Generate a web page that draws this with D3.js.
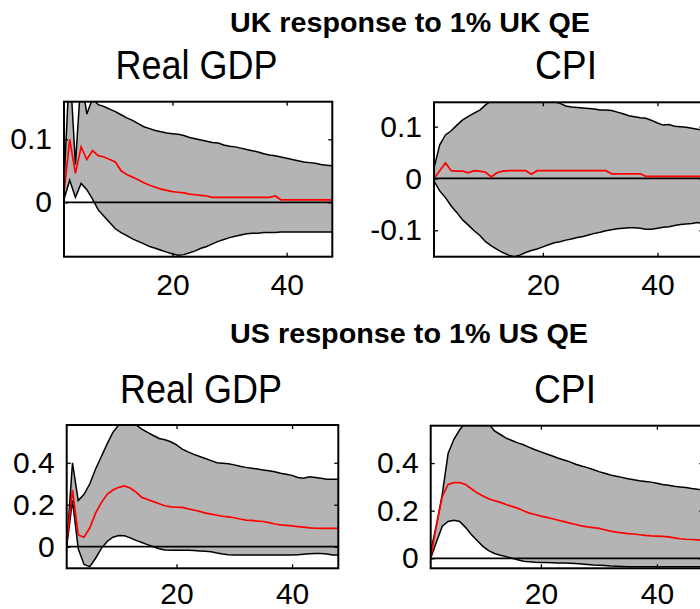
<!DOCTYPE html>
<html>
<head>
<meta charset="utf-8">
<script src="https://cdn.jsdelivr.net/npm/d3@7"></script>
<style>
  html, body { margin: 0; padding: 0; background: #fff; }
  svg { display: block; }
</style>
</head>
<body>
<svg id="chart" width="700" height="609"></svg>
<script>
// Impulse responses over a 48-period horizon: median with 68% bands.
const horizon = d3.range(1, 49);

// UK response to 1% UK QE — Real GDP
const ukGdpUpper = [0.030, 0.220, 0.060, 0.200, 0.140, 0.165, 0.155, 0.152, 0.148, 0.144,
  0.139, 0.134, 0.130, 0.125, 0.120, 0.117, 0.114, 0.112, 0.110, 0.109,
  0.108, 0.106, 0.103, 0.101, 0.099, 0.097, 0.095, 0.094, 0.091, 0.089,
  0.088, 0.086, 0.084, 0.082, 0.080, 0.077, 0.075, 0.074, 0.072, 0.070,
  0.068, 0.066, 0.064, 0.063, 0.062, 0.060, 0.059, 0.058];
const ukGdpMedian = [0.015, 0.100, 0.046, 0.088, 0.068, 0.082, 0.074, 0.072, 0.068, 0.064,
  0.050, 0.044, 0.040, 0.036, 0.031, 0.027, 0.024, 0.021, 0.019, 0.017,
  0.016, 0.015, 0.013, 0.012, 0.011, 0.010, 0.008, 0.008, 0.008, 0.008,
  0.008, 0.008, 0.008, 0.008, 0.008, 0.008, 0.008, 0.010, 0.004, 0.004,
  0.004, 0.004, 0.004, 0.004, 0.004, 0.004, 0.004, 0.004];
const ukGdpLower = [0.005, 0.035, 0.008, 0.030, 0.020, 0.005, -0.012, -0.022, -0.032, -0.042,
  -0.048, -0.053, -0.058, -0.062, -0.066, -0.070, -0.073, -0.076, -0.079, -0.082,
  -0.084, -0.083, -0.080, -0.077, -0.073, -0.070, -0.066, -0.062, -0.059, -0.056,
  -0.054, -0.052, -0.050, -0.049, -0.049, -0.048, -0.048, -0.048, -0.047, -0.047,
  -0.047, -0.047, -0.047, -0.047, -0.047, -0.047, -0.047, -0.047];

// UK response to 1% UK QE — CPI
const ukCpiUpper = [0.020, 0.065, 0.084, 0.092, 0.103, 0.113, 0.120, 0.126, 0.132, 0.142,
  0.150, 0.156, 0.160, 0.163, 0.165, 0.166, 0.166, 0.164, 0.160, 0.156,
  0.152, 0.148, 0.145, 0.140, 0.138, 0.137, 0.136, 0.135, 0.134, 0.132,
  0.132, 0.131, 0.128, 0.125, 0.121, 0.119, 0.117, 0.116, 0.112, 0.107,
  0.103, 0.104, 0.101, 0.100, 0.099, 0.097, 0.095, 0.094];
const ukCpiMedian = [0.000, 0.015, 0.030, 0.015, 0.014, 0.014, 0.011, 0.015, 0.014, 0.012,
  0.003, 0.011, 0.014, 0.015, 0.015, 0.015, 0.015, 0.008, 0.015, 0.015,
  0.015, 0.015, 0.015, 0.015, 0.015, 0.015, 0.015, 0.015, 0.015, 0.015,
  0.015, 0.009, 0.009, 0.009, 0.009, 0.009, 0.009, 0.004, 0.004, 0.004,
  0.004, 0.004, 0.004, 0.004, 0.004, 0.004, 0.004, 0.004];
const ukCpiLower = [-0.005, -0.024, -0.037, -0.053, -0.066, -0.080, -0.090, -0.101, -0.110, -0.122,
  -0.130, -0.137, -0.143, -0.148, -0.151, -0.148, -0.143, -0.139, -0.136, -0.132,
  -0.128, -0.124, -0.122, -0.119, -0.117, -0.114, -0.112, -0.109, -0.106, -0.104,
  -0.101, -0.099, -0.097, -0.096, -0.095, -0.095, -0.096, -0.098, -0.098, -0.096,
  -0.094, -0.093, -0.091, -0.089, -0.088, -0.087, -0.085, -0.087];

// US response to 1% US QE — Real GDP
const usGdpUpper = [0.000, 0.400, 0.220, 0.250, 0.300, 0.370, 0.430, 0.490, 0.545, 0.580,
  0.600, 0.600, 0.580, 0.560, 0.545, 0.530, 0.516, 0.510, 0.500, 0.485,
  0.465, 0.452, 0.440, 0.430, 0.420, 0.410, 0.400, 0.398, 0.395, 0.390,
  0.383, 0.378, 0.374, 0.370, 0.366, 0.362, 0.357, 0.350, 0.345, 0.340,
  0.330, 0.326, 0.333, 0.330, 0.326, 0.322, 0.321, 0.321];
const usGdpMedian = [0.020, 0.270, 0.056, 0.045, 0.090, 0.160, 0.210, 0.250, 0.270, 0.283,
  0.290, 0.280, 0.260, 0.235, 0.225, 0.215, 0.205, 0.195, 0.190, 0.188,
  0.187, 0.180, 0.175, 0.168, 0.160, 0.155, 0.150, 0.145, 0.142, 0.138,
  0.132, 0.127, 0.125, 0.122, 0.120, 0.115, 0.108, 0.104, 0.102, 0.099,
  0.096, 0.093, 0.090, 0.088, 0.087, 0.087, 0.087, 0.087];
const usGdpLower = [0.000, 0.220, -0.010, -0.085, -0.095, -0.055, -0.008, 0.025, 0.045, 0.053,
  0.052, 0.042, 0.030, 0.020, 0.010, 0.000, -0.010, -0.016, -0.017, -0.017,
  -0.017, -0.017, -0.018, -0.020, -0.022, -0.024, -0.030, -0.035, -0.038, -0.040,
  -0.040, -0.040, -0.040, -0.040, -0.040, -0.040, -0.040, -0.040, -0.040, -0.040,
  -0.038, -0.036, -0.034, -0.032, -0.032, -0.035, -0.040, -0.040];

// US response to 1% US QE — CPI
const usCpiUpper = [0.030, 0.140, 0.270, 0.440, 0.500, 0.540, 0.570, 0.590, 0.600, 0.590,
  0.565, 0.535, 0.520, 0.505, 0.495, 0.485, 0.477, 0.466, 0.456, 0.447,
  0.438, 0.430, 0.420, 0.413, 0.405, 0.395, 0.388, 0.381, 0.373, 0.364,
  0.357, 0.350, 0.345, 0.340, 0.334, 0.330, 0.326, 0.323, 0.320, 0.315,
  0.310, 0.307, 0.303, 0.300, 0.297, 0.293, 0.290, 0.288];
const usCpiMedian = [0.000, 0.140, 0.260, 0.310, 0.318, 0.318, 0.310, 0.292, 0.275, 0.262,
  0.250, 0.242, 0.235, 0.226, 0.218, 0.210, 0.200, 0.190, 0.184, 0.177,
  0.172, 0.166, 0.160, 0.154, 0.148, 0.142, 0.136, 0.132, 0.129, 0.126,
  0.120, 0.114, 0.110, 0.107, 0.104, 0.102, 0.099, 0.096, 0.094, 0.093,
  0.092, 0.090, 0.086, 0.082, 0.080, 0.079, 0.077, 0.076];
const usCpiLower = [0.000, 0.070, 0.135, 0.155, 0.160, 0.155, 0.130, 0.100, 0.075, 0.050,
  0.032, 0.020, 0.013, 0.007, 0.000, -0.006, -0.012, -0.015, -0.017, -0.018,
  -0.018, -0.019, -0.020, -0.020, -0.021, -0.022, -0.024, -0.026, -0.028, -0.029,
  -0.030, -0.032, -0.033, -0.034, -0.035, -0.035, -0.035, -0.035, -0.035, -0.035,
  -0.035, -0.035, -0.035, -0.035, -0.035, -0.035, -0.035, -0.035];

// Tick values
const xTicks = [20, 40];
const ukGdpTicks = [0, 0.1];
const ukCpiTicks = [-0.1, 0, 0.1];
const usGdpTicks = [0, 0.2, 0.4];
const usCpiTicks = [0, 0.2, 0.4];

// Row headings and panel titles
const rowTitles = ["UK response to 1% UK QE", "US response to 1% US QE"];
const panelTitles = ["Real GDP", "CPI", "Real GDP", "CPI"];

const FONT = "'Liberation Sans', Arial, Helvetica, sans-serif";
const svg = d3.select("#chart");
const defs = svg.append("defs");

// Heading placement
const rowLayout = [
  { cx: 410, y: 32, len: 360 },
  { cx: 409, y: 343, len: 358 }
];
rowTitles.forEach((t, i) => {
  const L = rowLayout[i];
  svg.append("text")
    .attr("x", L.cx - L.len / 2).attr("y", L.y)
    .attr("textLength", L.len).attr("lengthAdjust", "spacingAndGlyphs")
    .style("font-family", FONT).style("font-weight", "bold").style("font-size", "28px")
    .attr("fill", "#000").text(t);
});

// Panel geometry
const panels = [
  { title: panelTitles[0], up: ukGdpUpper, mid: ukGdpMedian, lo: ukGdpLower, yTicks: ukGdpTicks,
    yDomain: [-0.0863, 0.1597], box: [64, 101.7, 332.3, 256.7], tcx: 196.5, ty: 79, tlen: 162, xPad: 17 },
  { title: panelTitles[1], up: ukCpiUpper, mid: ukCpiMedian, lo: ukCpiLower, yTicks: ukCpiTicks,
    yDomain: [-0.151, 0.147], box: [434, 102.3, 703.3, 256.7], tcx: 566, ty: 79, tlen: 62, xPad: 17 },
  { title: panelTitles[2], up: usGdpUpper, mid: usGdpMedian, lo: usGdpLower, yTicks: usGdpTicks,
    yDomain: [-0.103, 0.58], box: [66.7, 425, 338.3, 568.3], tcx: 201, ty: 403, tlen: 162, xPad: 14 },
  { title: panelTitles[3], up: usCpiUpper, mid: usCpiMedian, lo: usCpiLower, yTicks: usCpiTicks,
    yDomain: [-0.042, 0.557], box: [430.7, 425.7, 703.3, 568.3], tcx: 565, ty: 403, tlen: 62, xPad: 14 }
];

panels.forEach((p, i) => {
  const [x0, y0, x1, y1] = p.box;
  const x = d3.scaleLinear().domain([1, 48]).range([x0, x1]);
  const y = d3.scaleLinear().domain(p.yDomain).range([y1, y0]);

  const clipId = "clip" + i;
  defs.append("clipPath").attr("id", clipId)
    .append("rect").attr("x", x0).attr("y", y0).attr("width", x1 - x0).attr("height", y1 - y0);

  const g = svg.append("g");
  const plot = g.append("g").attr("clip-path", `url(#${clipId})`);

  const rows = horizon.map((h, k) => ({ h, up: p.up[k], mid: p.mid[k], lo: p.lo[k] }));

  plot.append("path").datum(rows)
    .attr("d", d3.area().x(d => x(d.h)).y0(d => y(d.lo)).y1(d => y(d.up)))
    .attr("fill", "#b4b4b4");

  const edge = key => d3.line().x(d => x(d.h)).y(d => y(d[key]));
  ["up", "lo"].forEach(key => {
    plot.append("path").datum(rows).attr("d", edge(key))
      .attr("fill", "none").attr("stroke", "#000").attr("stroke-width", 1.5);
  });

  plot.append("line")
    .attr("x1", x0).attr("x2", x1).attr("y1", y(0)).attr("y2", y(0))
    .attr("stroke", "#000").attr("stroke-width", 1.7);

  plot.append("path").datum(rows).attr("d", edge("mid"))
    .attr("fill", "none").attr("stroke", "#ff0000").attr("stroke-width", 1.7);

  // Axes: ticks point inward on all four sides
  const fmt = d => d === 0 ? "0" : String(d);
  const styleAxis = sel => {
    sel.select(".domain").remove();
    sel.selectAll(".tick line").attr("stroke", "#000").attr("stroke-width", 1.3);
    sel.selectAll(".tick text").style("font-family", FONT).style("font-size", "30px").attr("fill", "#000");
  };
  g.append("g").attr("transform", `translate(${x0},0)`)
    .call(d3.axisLeft(y).tickValues(p.yTicks).tickFormat(fmt).tickSize(-4).tickPadding(12))
    .call(styleAxis);
  g.append("g").attr("transform", `translate(${x1},0)`)
    .call(d3.axisRight(y).tickValues(p.yTicks).tickFormat("").tickSize(-4))
    .call(styleAxis);
  g.append("g").attr("transform", `translate(0,${y1})`)
    .call(d3.axisBottom(x).tickValues(xTicks).tickFormat(d3.format("d")).tickSize(-4).tickPadding(p.xPad))
    .call(styleAxis);
  g.append("g").attr("transform", `translate(0,${y0})`)
    .call(d3.axisTop(x).tickValues(xTicks).tickFormat("").tickSize(-4))
    .call(styleAxis);

  g.append("rect")
    .attr("x", x0).attr("y", y0).attr("width", x1 - x0).attr("height", y1 - y0)
    .attr("fill", "none").attr("stroke", "#000").attr("stroke-width", 2);

  svg.append("text")
    .attr("x", p.tcx - p.tlen / 2).attr("y", p.ty)
    .attr("textLength", p.tlen).attr("lengthAdjust", "spacingAndGlyphs")
    .style("font-family", FONT).style("font-size", "40px")
    .attr("fill", "#000").text(p.title);
});
</script>
</body>
</html>
